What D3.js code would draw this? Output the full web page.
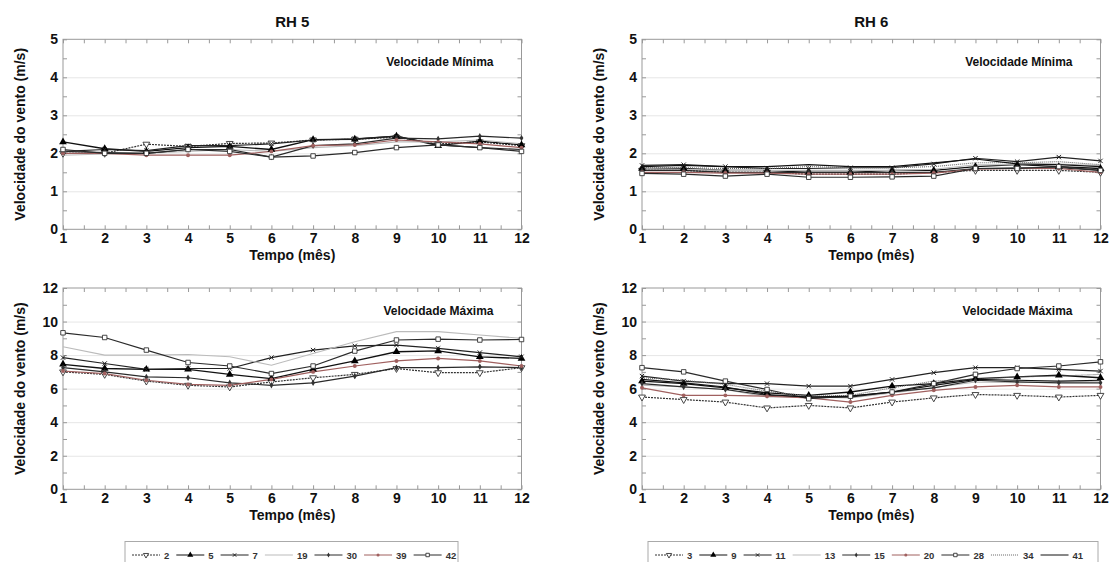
<!DOCTYPE html>
<html>
<head>
<meta charset="utf-8">
<script src="https://cdn.jsdelivr.net/npm/d3@7/dist/d3.min.js"></script>
<style>
body{margin:0;background:#fff;}
svg{display:block;font-family:"Liberation Sans",Arial,sans-serif;}
</style>
</head>
<body>
<svg id="chart" width="1111" height="562"></svg>
<script>
const months = [1,2,3,4,5,6,7,8,9,10,11,12];
const monthTicks = [1,2,3,4,5,6,7,8,9,10,11,12];
const minTicks = [0,1,2,3,4,5];
const maxTicks = [0,2,4,6,8,10,12];
const titles = ["RH 5","RH 6"];
const xLabel = "Tempo (mês)";
const yLabel = "Velocidade do vento (m/s)";
const minLabel = "Velocidade Mínima";
const maxLabel = "Velocidade Máxima";

// RH 5 stations
const rh5Stations = ["2","5","7","19","30","39","42"];
const rh5Min = [
  [2.00,2.00,2.24,2.18,2.26,2.27,2.35,2.37,2.42,2.25,2.30,2.20],
  [2.30,2.12,2.05,2.15,2.18,2.10,2.36,2.37,2.45,2.20,2.32,2.22],
  [2.05,2.10,2.07,2.20,2.20,2.25,2.35,2.38,2.45,2.22,2.15,2.10],
  [1.95,1.98,2.00,2.05,2.10,2.05,2.15,2.20,2.30,2.30,2.35,2.25],
  [2.05,2.02,2.00,2.10,2.10,1.90,2.20,2.25,2.40,2.38,2.45,2.40],
  [2.00,2.00,1.95,1.95,1.95,2.05,2.20,2.22,2.35,2.30,2.25,2.15],
  [2.10,2.00,2.00,2.10,2.05,1.90,1.93,2.02,2.15,2.22,2.15,2.05]
];
const rh5Max = [
  [7.00,6.85,6.45,6.20,6.10,6.40,6.65,6.85,7.20,6.95,6.95,7.25],
  [7.45,7.20,7.15,7.15,6.85,6.60,7.15,7.65,8.20,8.25,7.90,7.80],
  [7.85,7.50,7.15,7.20,7.20,7.85,8.30,8.55,8.60,8.40,8.15,7.90],
  [8.50,8.00,8.00,8.04,7.90,7.40,8.10,8.80,9.40,9.40,9.20,9.00],
  [7.25,7.00,6.70,6.65,6.35,6.20,6.35,6.75,7.25,7.25,7.30,7.25],
  [7.05,6.90,6.50,6.25,6.20,6.55,7.00,7.35,7.65,7.80,7.65,7.35],
  [9.33,9.05,8.30,7.56,7.35,6.90,7.35,8.24,8.90,8.95,8.90,8.93]
];
const rh5Styles = ["tridown","triup","times","plain","diamond","reddot","square"];

// RH 6 stations
const rh6Stations = ["3","9","11","13","15","20","28","34","41"];
const rh6Min = [
  [1.55,1.55,1.50,1.50,1.45,1.45,1.45,1.50,1.55,1.55,1.55,1.50],
  [1.60,1.60,1.55,1.55,1.50,1.50,1.55,1.55,1.65,1.70,1.65,1.60],
  [1.68,1.70,1.65,1.60,1.60,1.62,1.62,1.72,1.87,1.78,1.90,1.80],
  [1.60,1.58,1.55,1.55,1.55,1.55,1.55,1.58,1.70,1.70,1.72,1.68],
  [1.55,1.55,1.50,1.50,1.50,1.50,1.50,1.50,1.60,1.62,1.62,1.55],
  [1.50,1.50,1.48,1.48,1.45,1.45,1.45,1.48,1.58,1.60,1.60,1.50],
  [1.47,1.45,1.40,1.45,1.37,1.37,1.38,1.40,1.60,1.60,1.65,1.55],
  [1.62,1.62,1.60,1.60,1.65,1.62,1.62,1.65,1.75,1.75,1.78,1.70],
  [1.65,1.68,1.65,1.65,1.70,1.65,1.65,1.75,1.85,1.72,1.70,1.65]
];
const rh6Max = [
  [5.50,5.35,5.20,4.85,5.00,4.85,5.20,5.45,5.65,5.60,5.50,5.60],
  [6.45,6.30,6.05,5.75,5.60,5.80,6.15,6.30,6.60,6.70,6.80,6.65],
  [6.75,6.45,6.30,6.30,6.15,6.15,6.55,6.95,7.25,7.25,7.15,7.05],
  [6.20,6.10,5.95,5.50,5.50,5.45,5.75,6.05,6.40,6.35,6.40,6.45],
  [6.30,6.10,5.95,5.60,5.50,5.50,5.80,6.05,6.50,6.40,6.35,6.35],
  [6.05,5.60,5.60,5.55,5.45,5.20,5.60,5.90,6.10,6.20,6.10,6.10],
  [7.25,7.00,6.45,5.95,5.40,5.55,5.80,6.30,6.85,7.20,7.35,7.60],
  [6.65,6.50,6.25,5.85,5.55,5.60,6.05,6.45,6.55,6.70,6.75,6.85],
  [6.55,6.35,6.10,5.65,5.50,5.55,5.80,6.20,6.55,6.50,6.45,6.50]
];
const rh6Styles = ["tridown","triup","times","plain","diamond","reddot","square","dotted","solid"];

const styleDefs = {
  tridown:{stroke:"#333",dash:"2,1",width:1.2,marker:"tridown"},
  triup:{stroke:"#111",dash:null,width:1.3,marker:"triup"},
  times:{stroke:"#222",dash:null,width:1.2,marker:"times"},
  plain:{stroke:"#bbb",dash:null,width:1.1,marker:null},
  diamond:{stroke:"#2a2a2a",dash:null,width:1.2,marker:"diamond"},
  reddot:{stroke:"#a0605f",dash:null,width:1.2,marker:"reddot"},
  square:{stroke:"#2a2a2a",dash:null,width:1.2,marker:"square"},
  dotted:{stroke:"#666",dash:"1,1",width:1.1,marker:null},
  solid:{stroke:"#111",dash:null,width:1.2,marker:null}
};

const svg = d3.select("#chart");

function drawMarker(g, type, x, y, k){
  if(!type) return;
  k = k || 1;
  if(type==="tridown"){
    g.append("path").attr("d",d3.symbol(d3.symbolTriangle,20*k)())
     .attr("transform",`translate(${x},${y}) rotate(180)`)
     .attr("fill","#fff").attr("stroke","#333").attr("stroke-width",0.9);
  } else if(type==="triup"){
    g.append("path").attr("d",d3.symbol(d3.symbolTriangle,26*k)())
     .attr("transform",`translate(${x},${y})`).attr("fill","#000");
  } else if(type==="times"){
    g.append("path").attr("d",d3.symbol(d3.symbolTimes,14*k)())
     .attr("transform",`translate(${x},${y})`).attr("fill","none").attr("stroke","#222").attr("stroke-width",1);
  } else if(type==="diamond"){
    g.append("path").attr("d",d3.symbol(d3.symbolDiamond,12*k)())
     .attr("transform",`translate(${x},${y})`).attr("fill","#333");
  } else if(type==="reddot"){
    g.append("path").attr("d",d3.symbol(d3.symbolCircle,12*k)())
     .attr("transform",`translate(${x},${y})`).attr("fill","#a0605f");
  } else if(type==="square"){
    g.append("path").attr("d",d3.symbol(d3.symbolSquare,20*k)())
     .attr("transform",`translate(${x},${y})`).attr("fill","#fff").attr("stroke","#333").attr("stroke-width",0.9);
  }
}

function panel(x0, y0, y1, yMax, yTicks, yMinor, data, styles, title, label){
  const W = 458.5;
  const x = d3.scaleLinear().domain([1,12]).range([x0, x0+W]);
  const y = d3.scaleLinear().domain([0,yMax]).range([y1, y0]);
  const g = svg.append("g");
  const halfTicks = d3.range(1,12.01,0.5);
  const fontFam = "Liberation Sans, Arial, sans-serif";
  // grid
  g.append("g").attr("transform",`translate(${x0},0)`)
   .call(d3.axisLeft(y).tickValues(yTicks.filter(v=>v>0 && v<yMax)).tickSize(-W).tickFormat(""))
   .call(a=>a.select(".domain").remove())
   .call(a=>a.selectAll("line").attr("stroke","#e6e6e6"));
  // inward tick marks
  const tickCol = "#999";
  g.append("g").attr("transform",`translate(0,${y1})`)
   .call(d3.axisBottom(x).tickValues(halfTicks).tickSize(-4).tickFormat(""))
   .call(a=>a.select(".domain").remove()).call(a=>a.selectAll("line").attr("stroke",tickCol));
  g.append("g").attr("transform",`translate(0,${y0})`)
   .call(d3.axisTop(x).tickValues(halfTicks).tickSize(-4).tickFormat(""))
   .call(a=>a.select(".domain").remove()).call(a=>a.selectAll("line").attr("stroke",tickCol));
  g.append("g").attr("transform",`translate(${x0},0)`)
   .call(d3.axisLeft(y).tickValues(yMinor).tickSize(-4).tickFormat(""))
   .call(a=>a.select(".domain").remove()).call(a=>a.selectAll("line").attr("stroke",tickCol));
  g.append("g").attr("transform",`translate(${x0+W},0)`)
   .call(d3.axisRight(y).tickValues(yMinor).tickSize(-4).tickFormat(""))
   .call(a=>a.select(".domain").remove()).call(a=>a.selectAll("line").attr("stroke",tickCol));
  // frame
  g.append("rect").attr("x",x0).attr("y",y0).attr("width",W).attr("height",y1-y0)
   .attr("fill","none").attr("stroke","#999").attr("stroke-width",1);
  // tick labels
  g.append("g").attr("transform",`translate(0,${y1})`)
   .call(d3.axisBottom(x).tickValues(monthTicks).tickFormat(d3.format("d")).tickSize(0).tickPadding(4))
   .call(a=>a.select(".domain").remove())
   .call(a=>a.selectAll("text").attr("font-size",14).attr("font-weight","bold").attr("fill","#111").attr("font-family",fontFam));
  g.append("g").attr("transform",`translate(${x0},0)`)
   .call(d3.axisLeft(y).tickValues(yTicks).tickFormat(d3.format("d")).tickSize(0).tickPadding(5))
   .call(a=>a.select(".domain").remove())
   .call(a=>a.selectAll("text").attr("font-size",14).attr("font-weight","bold").attr("fill","#111").attr("font-family",fontFam));
  // axis titles
  g.append("text").attr("x",x0+W/2).attr("y",y1+31).attr("text-anchor","middle")
   .attr("font-size",14).attr("font-weight","bold").attr("fill","#111").text(xLabel);
  g.append("text").attr("transform",`translate(${x0-43},${(y0+y1)/2}) rotate(-90)`)
   .attr("text-anchor","middle").attr("dominant-baseline","central")
   .attr("font-size",14).attr("font-weight","bold").attr("fill","#111").text(yLabel);
  if(title){
    g.append("text").attr("x",x0+W/2).attr("y",y0-12).attr("text-anchor","middle")
     .attr("font-size",15).attr("font-weight","bold").attr("fill","#111").text(title);
  }
  g.append("text").attr("x",x0+W-28).attr("y",y0+27).attr("text-anchor","end")
   .attr("font-size",12).attr("font-weight","bold").attr("fill","#111").text(label);
  // lines
  const line = d3.line().x((d,i)=>x(months[i])).y(d=>y(d));
  data.forEach((vals,k)=>{
    const s = styleDefs[styles[k]];
    g.append("path").attr("d",line(vals)).attr("fill","none")
     .attr("stroke",s.stroke).attr("stroke-width",s.width)
     .attr("stroke-dasharray",s.dash);
  });
  data.forEach((vals,k)=>{
    const s = styleDefs[styles[k]];
    const mg = g.append("g");
    vals.forEach((v,i)=>drawMarker(mg,s.marker,x(months[i]),y(v)));
  });
}

const leftX = 63, rightX = 642;
panel(leftX, 39.3, 229.3, 5, minTicks, d3.range(0,5.01,0.5), rh5Min, rh5Styles, titles[0], minLabel);
panel(rightX, 39.3, 229.3, 5, minTicks, d3.range(0,5.01,0.5), rh6Min, rh6Styles, titles[1], minLabel);
panel(leftX, 288, 489.3, 12, maxTicks, d3.range(0,12.01,1), rh5Max, rh5Styles, null, maxLabel);
panel(rightX, 288, 489.3, 12, maxTicks, d3.range(0,12.01,1), rh6Max, rh6Styles, null, maxLabel);

function legend(bx0, bx1, stations, styles){
  const g = svg.append("g");
  const yc = 555;
  g.append("rect").attr("x",bx0).attr("y",541.5).attr("width",bx1-bx0).attr("height",26)
   .attr("fill","#fff").attr("stroke","#aaa").attr("stroke-width",1);
  let cx = bx0+7;
  stations.forEach((name,k)=>{
    const s = styleDefs[styles[k]];
    const L = 28;
    g.append("line").attr("x1",cx).attr("x2",cx+L).attr("y1",yc).attr("y2",yc)
     .attr("stroke",s.stroke).attr("stroke-width",1).attr("stroke-dasharray",s.dash);
    drawMarker(g,s.marker,cx+L/2,yc,0.6);
    const t = g.append("text").attr("x",cx+L+4).attr("y",yc).attr("dominant-baseline","central")
     .attr("font-size",9.5).attr("font-weight","bold").attr("fill","#333").text(name);
    cx += L+4+t.node().getComputedTextLength()+7;
  });
}
legend(125, 458, rh5Stations, rh5Styles);
legend(648, 1098, rh6Stations, rh6Styles);
</script>
</body>
</html>
